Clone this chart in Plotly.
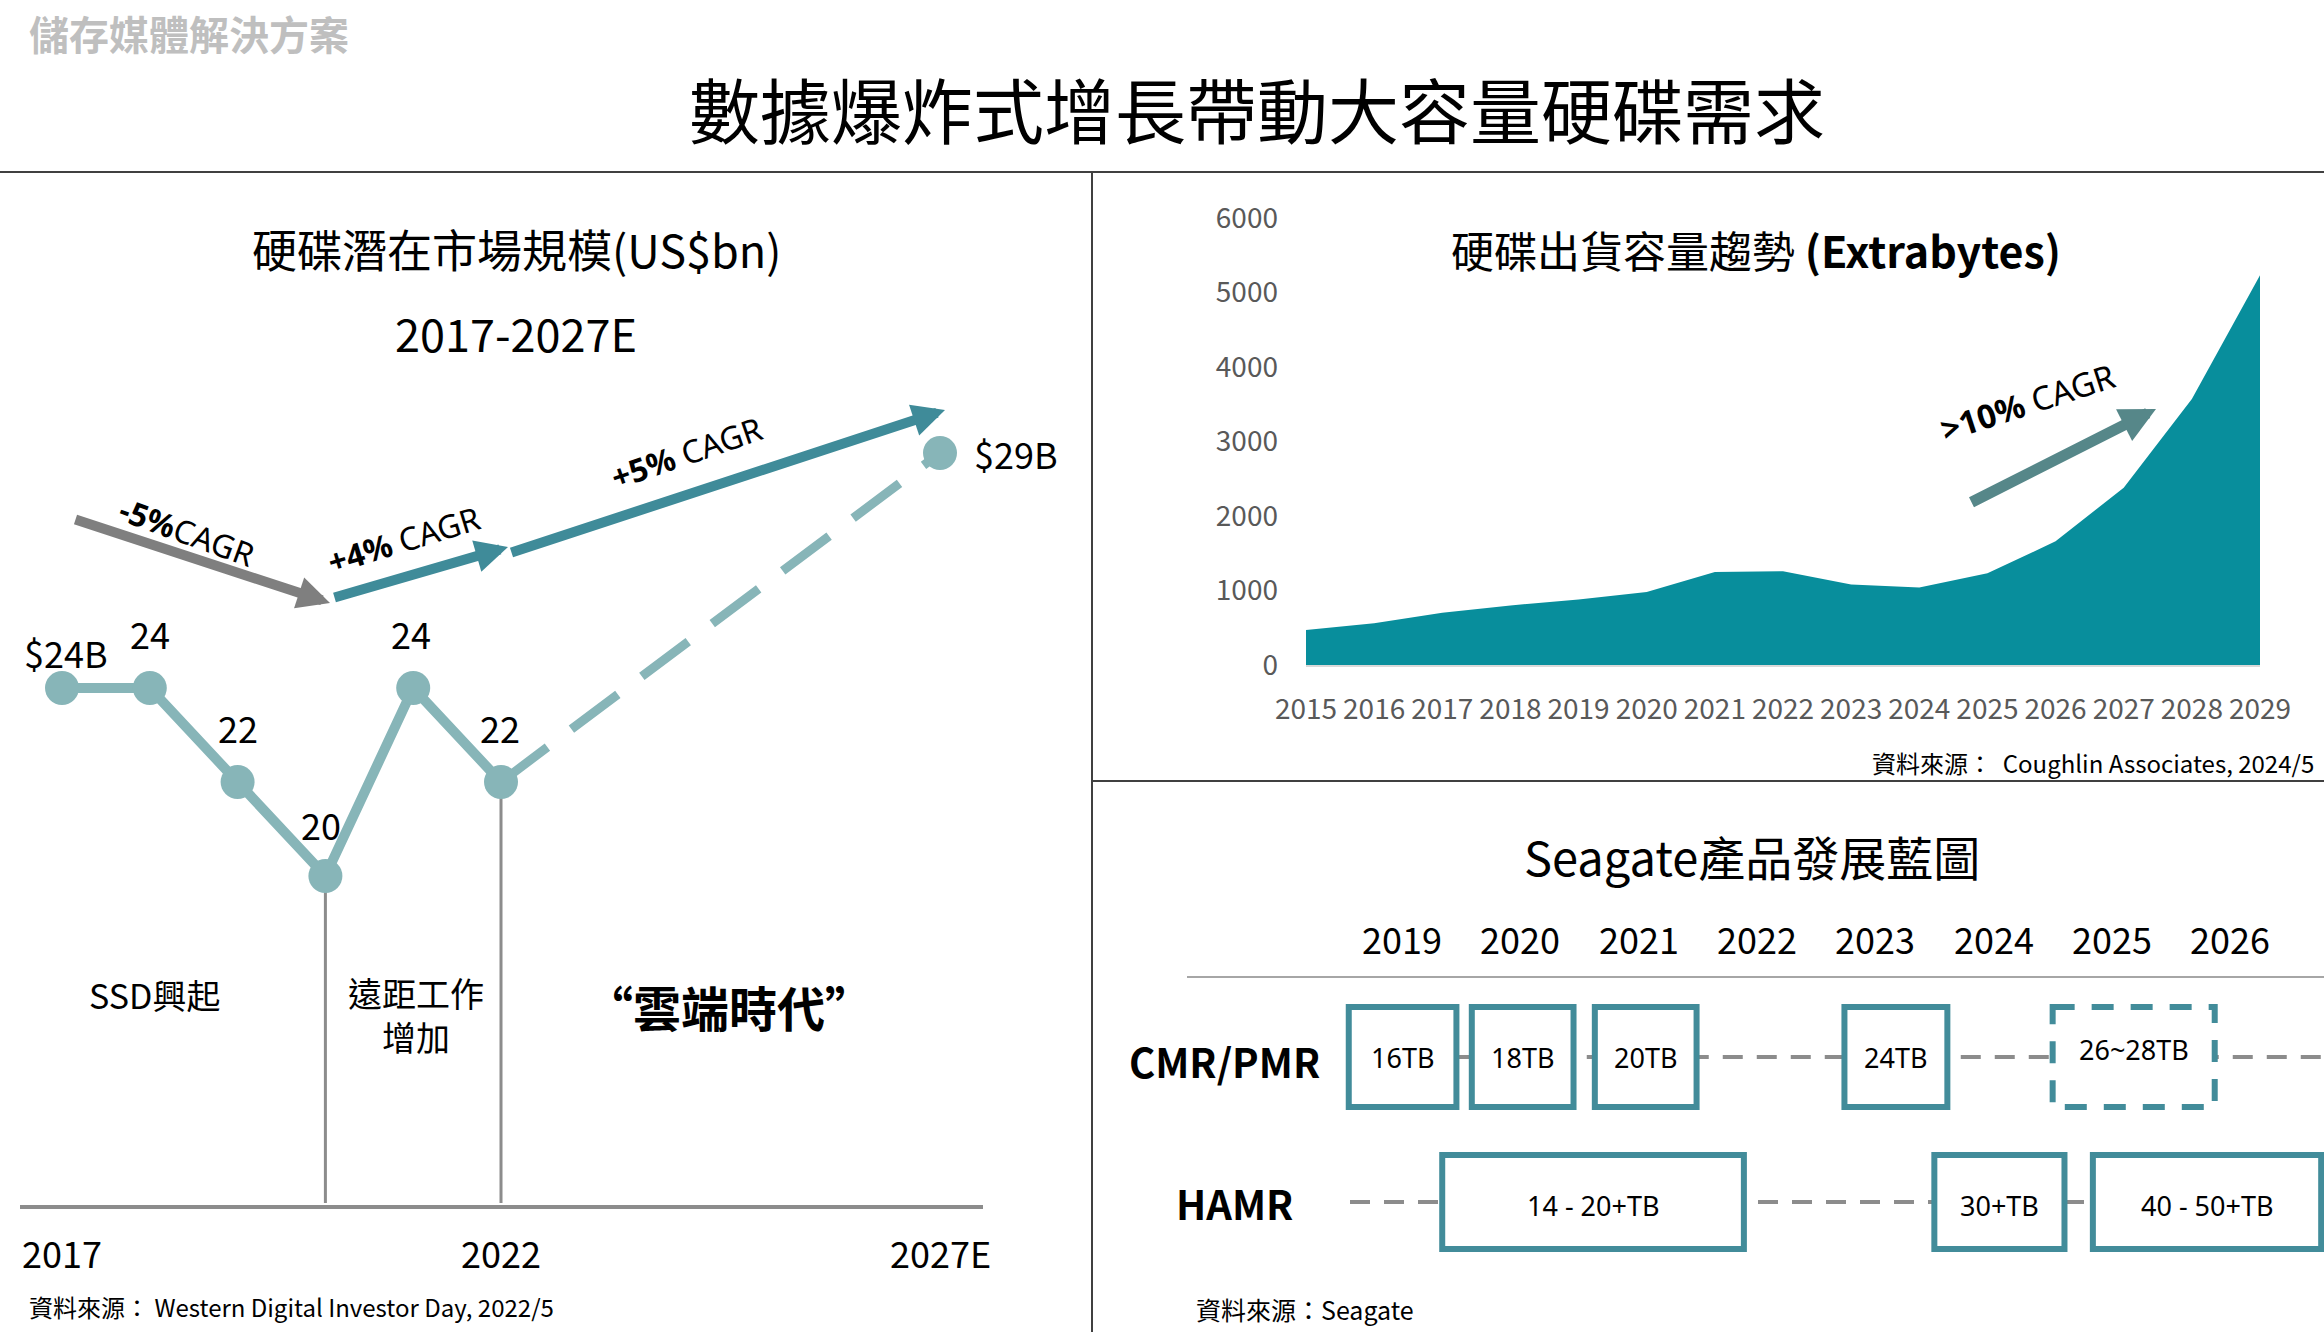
import plotly.graph_objects as go

W, H = 2324, 1332
FONT = "Noto Sans CJK TC, Noto Sans, sans-serif"

# ---------------- data ----------------
# Left: HDD TAM (US$bn)
tam_years = [2017, 2018, 2019, 2020, 2021, 2022]
tam_values = [24, 24, 22, 20, 24, 22]
tam_labels = ["$24B", "24", "22", "20", "24", "22"]
tam_forecast_years = [2022, 2027]
tam_forecast_values = [22, 29]
tam_forecast_label = "$29B"
tam_axis_years = [2017, 2022, 2027]
tam_axis_labels = ["2017", "2022", "2027E"]
era_divider_years = [2020, 2022]
cagr_texts = ["<b>-5%</b>CAGR", "<b>+4%</b> CAGR", "<b>+5%</b> CAGR"]
era_texts = ["SSD興起", "遠距工作<br>增加", "<b>“雲端時代”</b>"]

# Right top: HDD shipped capacity (EB)
ship_years = [2015, 2016, 2017, 2018, 2019, 2020, 2021, 2022, 2023, 2024,
              2025, 2026, 2027, 2028, 2029]
ship_eb = [470, 560, 700, 800, 880, 980, 1250, 1260, 1080, 1040,
           1230, 1660, 2380, 3570, 5230]
ship_yticks = [0, 1000, 2000, 3000, 4000, 5000, 6000]

# Right bottom: Seagate roadmap
road_years = [2019, 2020, 2021, 2022, 2023, 2024, 2025, 2026]
cmr_labels = ["16TB", "18TB", "20TB", "24TB", "26~28TB"]
cmr_start = [2018.55, 2019.59, 2020.63, 2022.74, 2024.50]
cmr_end = [2019.46, 2020.45, 2021.49, 2023.61, 2025.87]
cmr_planned = [False, False, False, False, True]
hamr_labels = ["14 - 20+TB", "30+TB", "40 - 50+TB"]
hamr_start = [2019.34, 2023.50, 2024.84]
hamr_end = [2021.89, 2024.60, 2026.77]

# ---------------- layout helpers ----------------
def PX(x):
    return x / W

def PY(y):
    return 1 - y / H

# left panel pixel calibration
L_X0, L_DX = 62, 87.8     # pixel of 2017, pixels per year
L_Y0, L_DY = 688, 47      # pixel of value 24, pixels per unit

def lx(px):
    return 2017 + (px - L_X0) / L_DX

def ly(py):
    return 24 - (py - L_Y0) / L_DY

# area chart pixel calibration
A_X0, A_X1, A_Y0, A_Y1 = 1306, 2260, 665, 218

def ax_(px):
    return 2015 + (px - A_X0) / (A_X1 - A_X0) * 14

def ay_(py):
    return (A_Y0 - py) / (A_Y0 - A_Y1) * 6000

# roadmap calibration
R_X0, R_DX = 1402, 118.3

def rx(px):
    return 2019 + (px - R_X0) / R_DX

TEAL_LINE = "#87b5b8"
TEAL_ARROW = "#3f8b99"
BOX = "#428c9a"
GRAY = "#8c8c8c"

fig = go.Figure()

# ---- left line chart ----
fig.add_trace(go.Scatter(
    x=tam_forecast_years, y=tam_forecast_values, mode="lines",
    line=dict(color=TEAL_LINE, width=9, dash="58px,30px"),
    xaxis="x", yaxis="y", hoverinfo="skip", showlegend=False))
fig.add_trace(go.Scatter(
    x=tam_years, y=tam_values, mode="lines+markers",
    line=dict(color=TEAL_LINE, width=10),
    marker=dict(color=TEAL_LINE, size=34),
    xaxis="x", yaxis="y", showlegend=False))
fig.add_trace(go.Scatter(
    x=tam_forecast_years[-1:], y=tam_forecast_values[-1:], mode="markers",
    marker=dict(color=TEAL_LINE, size=34),
    xaxis="x", yaxis="y", showlegend=False))

# ---- area chart ----
fig.add_trace(go.Scatter(
    x=ship_years, y=ship_eb, mode="lines", fill="tozeroy",
    line=dict(color="#088e9c", width=0), fillcolor="#088e9c",
    xaxis="x2", yaxis="y2", showlegend=False))

shapes = []
annotations = []

# frame lines
shapes.append(dict(type="line", xref="paper", yref="paper",
                   x0=0, x1=1, y0=PY(172), y1=PY(172),
                   line=dict(color="#404040", width=2)))
shapes.append(dict(type="line", xref="paper", yref="paper",
                   x0=PX(1092), x1=PX(1092), y0=PY(172), y1=0,
                   line=dict(color="#404040", width=2)))
shapes.append(dict(type="line", xref="paper", yref="paper",
                   x0=PX(1092), x1=1, y0=PY(781), y1=PY(781),
                   line=dict(color="#404040", width=2)))

# left: baseline and era dividers
shapes.append(dict(type="line", xref="x", yref="y",
                   x0=lx(20), x1=lx(983), y0=ly(1207), y1=ly(1207),
                   line=dict(color=GRAY, width=4), layer="below"))
for yr in era_divider_years:
    v = tam_values[tam_years.index(yr)]
    shapes.append(dict(type="line", xref="x", yref="y",
                       x0=yr, x1=yr, y0=v, y1=ly(1203),
                       line=dict(color=GRAY, width=3), layer="below"))

# left: data labels
label_offsets = [(4, 36), (0, 55), (0, 55), (-4, 52), (-2, 55), (-1, 55)]
for yr, v, t, (dx, dy) in zip(tam_years, tam_values, tam_labels, label_offsets):
    annotations.append(dict(x=yr, y=v, xref="x", yref="y", text=t,
                            showarrow=False, xshift=dx, yshift=dy,
                            font=dict(size=36, color="black")))
annotations.append(dict(x=tam_forecast_years[-1], y=tam_forecast_values[-1],
                        xref="x", yref="y", text=tam_forecast_label,
                        showarrow=False, xanchor="left", xshift=32,
                        font=dict(size=36, color="black")))
for yr, t in zip(tam_axis_years, tam_axis_labels):
    annotations.append(dict(x=yr, y=PY(1252), xref="x", yref="paper", text=t,
                            showarrow=False, font=dict(size=36, color="black")))

# left: CAGR arrows (pixel anchor points)
cagr_arrows = [((74, 519), (330, 603), "#7f7f7f"),
               ((333, 598), (508, 547), TEAL_ARROW),
               ((510, 553), (945, 410), TEAL_ARROW)]
for (t0, t1, c) in cagr_arrows:
    annotations.append(dict(x=lx(t1[0]), y=ly(t1[1]), ax=lx(t0[0]), ay=ly(t0[1]),
                            xref="x", yref="y", axref="x", ayref="y", text="",
                            showarrow=True, arrowhead=2, arrowsize=0.65,
                            arrowwidth=10, arrowcolor=c, standoff=0))
cagr_text_pos = [(187, 531, 20), (403, 539, -17), (686, 453, -19)]
for t, (px, py, ang) in zip(cagr_texts, cagr_text_pos):
    annotations.append(dict(x=PX(px), y=PY(py), xref="paper", yref="paper",
                            text=t, textangle=ang, showarrow=False,
                            font=dict(size=32, color="black", family="Noto Sans")))

# left: era texts
era_pos = [(154, 994, 34), (416, 1015, 34), (729, 1006, 48)]
for t, (px, py, fs) in zip(era_texts, era_pos):
    annotations.append(dict(x=PX(px), y=PY(py), xref="paper", yref="paper",
                            text=t, showarrow=False,
                            font=dict(size=fs, color="black")))

# titles
annotations += [
    dict(x=PX(27), y=PY(33), xref="paper", yref="paper", xanchor="left",
         text="<b>儲存媒體解決方案</b>", showarrow=False,
         font=dict(size=40, color="#bfbfbf")),
    dict(x=PX(1257), y=PY(107), xref="paper", yref="paper",
         text="數據爆炸式增長帶動大容量硬碟需求", showarrow=False,
         font=dict(size=71, color="black")),
    dict(x=PX(516), y=PY(249), xref="paper", yref="paper",
         text="硬碟潛在市場規模(US$bn)", showarrow=False,
         font=dict(size=45, color="black")),
    dict(x=PX(516), y=PY(332), xref="paper", yref="paper",
         text="2017-2027E", showarrow=False,
         font=dict(size=45, color="black")),
    dict(x=PX(27), y=PY(1306), xref="paper", yref="paper", xanchor="left",
         text="資料來源： Western Digital Investor Day, 2022/5", showarrow=False,
         font=dict(size=24, color="black")),
    dict(x=PX(1756), y=PY(249), xref="paper", yref="paper",
         text="硬碟出貨容量趨勢 <b>(Extrabytes)</b>", showarrow=False,
         font=dict(size=43, color="black")),
    dict(x=PX(2316), y=PY(762), xref="paper", yref="paper", xanchor="right",
         text="資料來源：  Coughlin Associates, 2024/5", showarrow=False,
         font=dict(size=24, color="black")),
    dict(x=PX(1752), y=PY(855), xref="paper", yref="paper",
         text="Seagate產品發展藍圖", showarrow=False,
         font=dict(size=47, color="black")),
    dict(x=PX(1194), y=PY(1309), xref="paper", yref="paper", xanchor="left",
         text="資料來源：Seagate", showarrow=False,
         font=dict(size=25, color="black")),
]

# area chart arrow
annotations.append(dict(x=ax_(2156), y=ay_(409), ax=ax_(1970), ay=ay_(503),
                        xref="x2", yref="y2", axref="x2", ayref="y2", text="",
                        showarrow=True, arrowhead=2, arrowsize=0.65,
                        arrowwidth=11, arrowcolor="#568789", standoff=0))
annotations.append(dict(x=PX(2027), y=PY(402), xref="paper", yref="paper",
                        text="<b>&gt;10%</b> CAGR", textangle=-18, showarrow=False,
                        font=dict(size=33, color="black", family="Noto Sans")))

# ---- roadmap ----
CMR_Y, HAMR_Y = 1057, 1202
CMR_H, HAMR_H = 50, 47
R_END = rx(W)

shapes.append(dict(type="line", xref="x3", yref="y3",
                   x0=rx(1187), x1=R_END, y0=977, y1=977,
                   line=dict(color="#a6a6a6", width=2)))
shapes.append(dict(type="line", xref="x3", yref="y3",
                   x0=cmr_start[0], x1=R_END, y0=CMR_Y, y1=CMR_Y,
                   line=dict(color=GRAY, width=4, dash="20px,14px")))
shapes.append(dict(type="line", xref="x3", yref="y3",
                   x0=rx(1350), x1=R_END, y0=HAMR_Y, y1=HAMR_Y,
                   line=dict(color=GRAY, width=4, dash="20px,14px")))

for t, s, e, p in zip(cmr_labels, cmr_start, cmr_end, cmr_planned):
    shapes.append(dict(type="rect", xref="x3", yref="y3",
                       x0=s, x1=e, y0=CMR_Y - CMR_H, y1=CMR_Y + CMR_H,
                       fillcolor="white",
                       line=dict(color=BOX, width=6,
                                 dash="22px,17px" if p else "solid")))
    annotations.append(dict(x=(s + e) / 2, y=CMR_Y - (8 if p else 0),
                            xref="x3", yref="y3", text=t, showarrow=False,
                            font=dict(size=27, color="black", family="Noto Sans")))
for t, s, e in zip(hamr_labels, hamr_start, hamr_end):
    shapes.append(dict(type="rect", xref="x3", yref="y3",
                       x0=s, x1=e, y0=HAMR_Y - HAMR_H, y1=HAMR_Y + HAMR_H,
                       fillcolor="white", line=dict(color=BOX, width=6)))
    annotations.append(dict(x=(s + e) / 2, y=HAMR_Y + 3,
                            xref="x3", yref="y3", text=t, showarrow=False,
                            font=dict(size=27, color="black", family="Noto Sans")))
for yr in road_years:
    annotations.append(dict(x=yr, y=938, xref="x3", yref="y3", text=str(yr),
                            showarrow=False, font=dict(size=36, color="black")))
annotations.append(dict(x=PX(1224), y=PY(1061), xref="paper", yref="paper",
                        text="<b>CMR/PMR</b>", showarrow=False,
                        font=dict(size=40, color="black")))
annotations.append(dict(x=PX(1234), y=PY(1203), xref="paper", yref="paper",
                        text="<b>HAMR</b>", showarrow=False,
                        font=dict(size=40, color="black")))

# explicit anchoring (paper refs would otherwise auto-anchor by thirds)
for a in annotations:
    a.setdefault("xanchor", "center")
    a.setdefault("yanchor", "middle")

hidden = dict(visible=False, fixedrange=True, automargin=False)
fig.update_layout(
    width=W, height=H, autosize=False,
    margin=dict(l=0, r=0, t=0, b=0, pad=0, autoexpand=False),
    paper_bgcolor="white", plot_bgcolor="rgba(0,0,0,0)",
    font=dict(family=FONT, color="black"),
    showlegend=False,
    xaxis=dict(domain=[0, PX(1092)], range=[lx(0), lx(1092)], anchor="y", **hidden),
    yaxis=dict(domain=[0, PY(172)], range=[ly(1332), ly(172)], anchor="x", **hidden),
    xaxis2=dict(domain=[PX(A_X0), PX(A_X1)], range=[2015, 2029], anchor="y2",
                tickvals=ship_years, ticktext=[str(y) for y in ship_years],
                showgrid=False, zeroline=False, showline=True,
                linecolor="#d9d9d9", linewidth=2, ticks="",
                ticklabelstandoff=18, automargin=False,
                tickfont=dict(size=28, color="#595959"), fixedrange=True),
    yaxis2=dict(domain=[PY(A_Y0), PY(A_Y1)], range=[0, 6000], anchor="x2",
                tickvals=ship_yticks, showgrid=False, zeroline=False,
                showline=False, ticks="", ticklabelstandoff=27, automargin=False,
                tickfont=dict(size=28, color="#595959"), fixedrange=True),
    xaxis3=dict(domain=[PX(1092), 1], range=[rx(1092), rx(W)], anchor="y3", **hidden),
    yaxis3=dict(domain=[0, PY(781)], range=[1332, 781], anchor="x3", **hidden),
    shapes=shapes,
    annotations=annotations,
)

fig.write_html("out.html")
